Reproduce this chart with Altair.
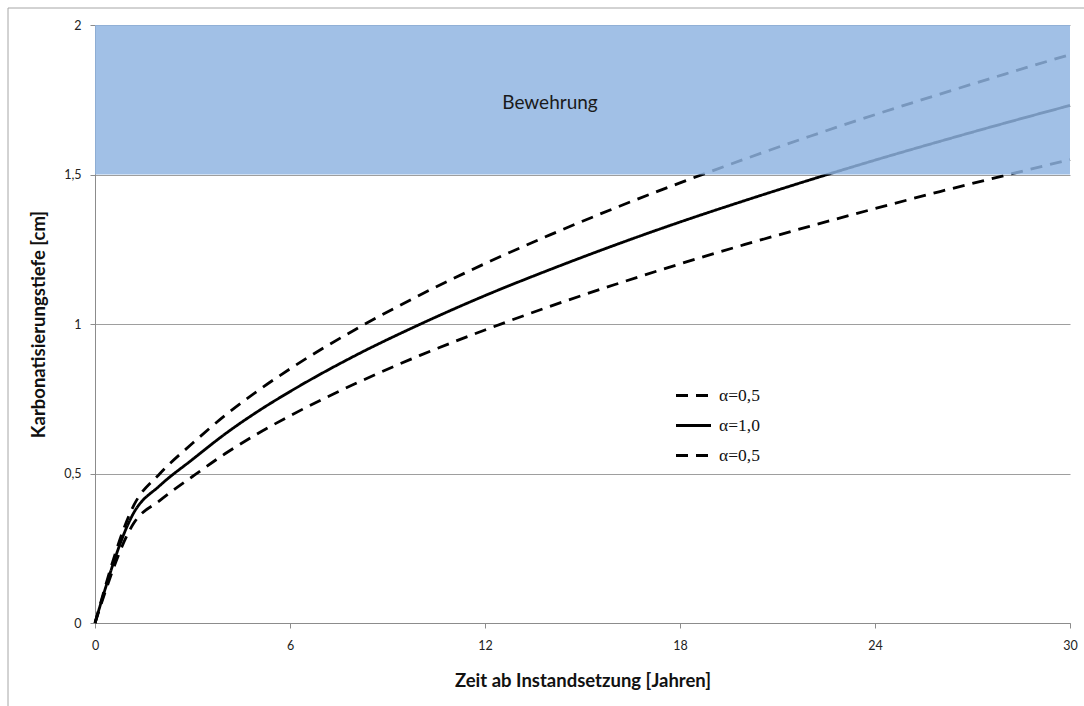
import altair as alt
import pandas as pd

# Carbonation depth over time after repair, three alpha variants
years = [0, 1.2, 2, 3, 4, 5, 6, 8, 10, 12, 14, 16, 18, 20, 22, 24, 26, 28, 30]
depth_upper = [0, 0.395, 0.500, 0.601, 0.694, 0.776, 0.850, 0.981, 1.097, 1.202,
               1.298, 1.388, 1.472, 1.552, 1.628, 1.700, 1.769, 1.836, 1.901]
depth_mid = [0, 0.370, 0.460, 0.547, 0.632, 0.707, 0.774, 0.894, 0.999, 1.095,
             1.182, 1.264, 1.341, 1.413, 1.482, 1.548, 1.611, 1.672, 1.731]
depth_lower = [0, 0.335, 0.410, 0.490, 0.566, 0.633, 0.693, 0.800, 0.895, 0.980,
               1.059, 1.132, 1.201, 1.266, 1.327, 1.386, 1.443, 1.497, 1.550]

# legend names (the trailing space keeps the two alpha=0,5 entries distinct)
series_names = ["α=0,5", "α=1,0", "α=0,5 "]
series_dash = [[12, 8], [1, 0], [12, 8]]

# reinforcement zone
band_from, band_to = 1.5, 2.0
band_label = "Bewehrung"
band_label_x, band_label_y = 14, 1.74

x_ticks = [0, 6, 12, 18, 24, 30]
y_ticks = [0, 0.5, 1, 1.5, 2]

rows = []
for name, values in zip(series_names, [depth_upper, depth_mid, depth_lower]):
    for t, d in zip(years, values):
        rows.append({"Zeit": t, "Tiefe": d, "Reihe": name})
curves = pd.DataFrame(rows)

W, H = 975, 598
FONT = "Lato"

x_scale = alt.Scale(domain=[0, 30], nice=False, zero=True)
y_scale = alt.Scale(domain=[0, 2], nice=False)

x_axis = alt.Axis(
    values=x_ticks, title="Zeit ab Instandsetzung [Jahren]", grid=False,
    tickSize=5, labelPadding=11, labelFontSize=12.5, labelFont=FONT,
    labelFlush=False, labelColor="#222", domainColor="#8c8c8c",
    tickColor="#8c8c8c",
    titleFont=FONT, titleFontSize=18.5, titleFontWeight="bold", titleColor="#111",
    titleX=W / 2, titleY=57, titleBaseline="middle", titleAnchor="middle",
)
y_axis = alt.Axis(
    values=y_ticks, title="Karbonatisierungstiefe [cm]", grid=True,
    gridColor="#9e9e9e", gridWidth=1, tickSize=5, labelPadding=9,
    labelFontSize=12.5, labelFont=FONT, labelColor="#222", labelFlush=False,
    domainColor="#8c8c8c", tickColor="#8c8c8c",
    labelExpr="replace(toString(datum.value), '.', ',')",
    titleFont=FONT, titleFontSize=18.5, titleFontWeight="bold", titleColor="#111",
    titleX=-57, titleY=H / 2, titleBaseline="middle", titleAlign="center",
    titleAngle=270,
)

lines = alt.Chart(curves).mark_line(
    color="black", strokeWidth=2.8, interpolate="monotone"
).encode(
    x=alt.X("Zeit:Q", scale=x_scale, axis=x_axis),
    y=alt.Y("Tiefe:Q", scale=y_scale, axis=y_axis),
    strokeDash=alt.StrokeDash(
        "Reihe:N",
        scale=alt.Scale(domain=series_names, range=series_dash),
        sort=series_names,
        legend=alt.Legend(
            title=None, orient="none", legendX=587, legendY=359,
            symbolType="M-1.75,0H1.75", symbolSize=400,
            symbolStrokeWidth=3, symbolStrokeColor="black",
            labelFont="Liberation Serif", labelFontSize=17.5, labelColor="#111",
            labelOffset=14, rowPadding=10, padding=0,
        ),
    ),
)

band = alt.Chart(pd.DataFrame({
    "x0": [0], "x1": [30], "y0": [band_from], "y1": [band_to]
})).mark_rect(color="#8fb4e1", opacity=0.84).encode(
    x=alt.X("x0:Q", scale=x_scale), x2="x1:Q",
    y=alt.Y("y0:Q", scale=y_scale), y2="y1:Q",
)

label = alt.Chart(pd.DataFrame({
    "x": [band_label_x], "y": [band_label_y], "t": [band_label]
})).mark_text(font=FONT, fontSize=19, color="#1a1a1a").encode(
    x=alt.X("x:Q", scale=x_scale), y=alt.Y("y:Q", scale=y_scale), text="t:N"
)

# outer chart border
frame = alt.Chart(pd.DataFrame({"k": [0]})).mark_rect(
    fill="transparent", stroke="#a6a6a6", strokeWidth=1
).encode(
    x=alt.value(-87), x2=alt.value(W + 40),
    y=alt.value(-17), y2=alt.value(H + 140),
)

chart = alt.layer(frame, lines, band, label).properties(
    width=W, height=H,
    autosize=alt.AutoSizeParams(type="none"),
    padding={"left": 95, "top": 25, "right": 14, "bottom": 83},
    background="white",
).configure_view(strokeOpacity=0)

chart.save("out.html", embed_options={"renderer": "svg", "actions": False})
